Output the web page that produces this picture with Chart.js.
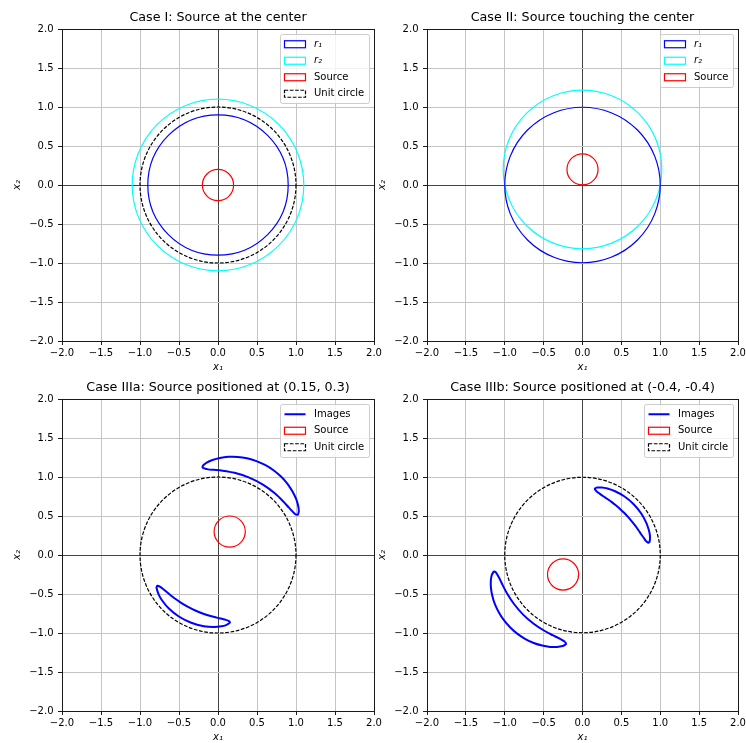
<!DOCTYPE html>
<html>
<head>
<meta charset="utf-8">
<script src="https://cdn.jsdelivr.net/npm/chart.js@4.4.0/dist/chart.umd.min.js"></script>
<style>
  body { margin: 0; width: 746px; height: 743px; overflow: hidden; background: #fff; position: relative; }
  canvas { position: absolute; }
</style>
</head>
<body>
<canvas id="case1" width="390" height="380" style="left:0;top:0"></canvas>
<canvas id="case2" width="390" height="380" style="left:365px;top:0"></canvas>
<canvas id="case3a" width="390" height="380" style="left:0;top:370px"></canvas>
<canvas id="case3b" width="390" height="380" style="left:365px;top:370px"></canvas>
<script>
// Axis ticks (same on both axes of every panel)
const axisTicks = [-2.0, -1.5, -1.0, -0.5, 0.0, 0.5, 1.0, 1.5, 2.0];

// Case I: circles (centre x, centre y, radius)
const case1Labels = ['r₁', 'r₂', 'Source', 'Unit circle'];
const case1CenterX = [0, 0, 0, 0];
const case1CenterY = [0, 0, 0, 0];
const case1Radius = [0.9, 1.1, 0.2, 1.0];

// Case II
const case2Labels = ['r₁', 'r₂', 'Source'];
const case2CenterX = [0, 0, 0];
const case2CenterY = [0, 0.2, 0.2];
const case2Radius = [1.0, 1.02, 0.2];

// Case IIIa
const case3aLabels = ['Source', 'Unit circle'];
const case3aCenterX = [0.15, 0];
const case3aCenterY = [0.3, 0];
const case3aRadius = [0.2, 1.0];

// Case IIIa image outlines
const case3aOuterX = [0.954, 0.891, 0.811, 0.716, 0.609, 0.493, 0.372, 0.251, 0.133, 0.024, -0.071, -0.145, -0.191, -0.199, -0.194, -0.127, -0.053, 0.059, 0.211, 0.393, 0.576, 0.728, 0.837, 0.910, 0.991, 1.021, 1.026, 1.036, 1.027, 1.000];
const case3aOuterY = [0.818, 0.913, 1.003, 1.084, 1.152, 1.204, 1.240, 1.258, 1.259, 1.245, 1.218, 1.184, 1.148, 1.126, 1.117, 1.098, 1.092, 1.081, 1.054, 0.996, 0.903, 0.792, 0.687, 0.607, 0.524, 0.516, 0.520, 0.564, 0.636, 0.723];
const case3aInnerX = [-0.604, -0.548, -0.487, -0.424, -0.359, -0.291, -0.222, -0.152, -0.083, -0.016, 0.048, 0.102, 0.141, 0.152, 0.151, 0.104, 0.045, -0.050, -0.182, -0.343, -0.502, -0.630, -0.714, -0.760, -0.789, -0.780, -0.776, -0.745, -0.704, -0.657];
const case3aInnerY = [-0.518, -0.561, -0.603, -0.643, -0.679, -0.711, -0.740, -0.765, -0.786, -0.803, -0.818, -0.832, -0.848, -0.861, -0.869, -0.898, -0.914, -0.922, -0.913, -0.869, -0.788, -0.685, -0.586, -0.507, -0.417, -0.395, -0.393, -0.405, -0.436, -0.475];

// Case IIIb
const case3bLabels = ['Source', 'Unit circle'];
const case3bCenterX = [-0.25, 0];
const case3bCenterY = [-0.25, 0];
const case3bRadius = [0.2, 1.0];

const case3bOuterX = [-0.223, -0.305, -0.386, -0.496, -0.628, -0.764, -0.881, -0.968, -1.027, -1.066, -1.114, -1.137, -1.145, -1.167, -1.179, -1.178, -1.161, -1.128, -1.077, -1.011, -0.929, -0.836, -0.734, -0.627, -0.519, -0.417, -0.327, -0.256, -0.216, -0.212];
const case3bOuterY = [-1.114, -1.066, -1.027, -0.968, -0.881, -0.764, -0.628, -0.496, -0.386, -0.305, -0.223, -0.212, -0.216, -0.256, -0.327, -0.417, -0.519, -0.627, -0.734, -0.836, -0.929, -1.011, -1.077, -1.128, -1.161, -1.178, -1.179, -1.167, -1.145, -1.137];
const case3bInnerX = [0.173, 0.249, 0.321, 0.419, 0.536, 0.655, 0.753, 0.818, 0.853, 0.867, 0.864, 0.850, 0.843, 0.817, 0.788, 0.754, 0.718, 0.678, 0.634, 0.588, 0.538, 0.486, 0.432, 0.377, 0.321, 0.267, 0.219, 0.179, 0.159, 0.158];
const case3bInnerY = [0.864, 0.867, 0.853, 0.818, 0.753, 0.655, 0.536, 0.419, 0.321, 0.249, 0.173, 0.158, 0.159, 0.179, 0.219, 0.267, 0.321, 0.377, 0.432, 0.486, 0.538, 0.588, 0.634, 0.678, 0.718, 0.754, 0.788, 0.817, 0.843, 0.850];

// Styles per circle label
const circleStyles = {
    'r₁': { color: '#0000ff', dashed: false },
    'r₂': { color: '#00ffff', dashed: false },
    'Source': { color: '#ff0000', dashed: false },
    'Unit circle': { color: '#000000', dashed: true }
};
const DASH = [3.7, 1.6];

Chart.defaults.font.family = '"DejaVu Sans", sans-serif';
Chart.defaults.font.size = 10;
Chart.defaults.color = '#000';

// Circle radius in pixels from the x scale
const pxRadius = (chart, r) => {
    const s = chart.scales.x;
    return Math.abs(s.getPixelForValue(r) - s.getPixelForValue(0));
};

// Dashed outline for point-circles
const dashPlugin = {
    id: 'dashPlugin',
    beforeDatasetDraw(chart, args) {
        const ds = chart.data.datasets[args.index];
        chart.ctx.save();
        if (ds.dashed) chart.ctx.setLineDash(DASH);
    },
    afterDatasetDraw(chart) {
        chart.ctx.restore();
    }
};

// Box around the axes
const framePlugin = {
    id: 'framePlugin',
    afterDatasetsDraw(chart) {
        const { ctx, chartArea: a } = chart;
        ctx.save();
        ctx.strokeStyle = '#1a1a1a';
        ctx.lineWidth = 1;
        ctx.strokeRect(Math.round(a.left) + 0.5, Math.round(a.top) + 0.5,
            Math.round(a.right - a.left), Math.round(a.bottom - a.top));
        ctx.restore();
    }
};

// matplotlib-like legend in the upper right corner
const legendPlugin = {
    id: 'mplLegend',
    afterDraw(chart) {
        const items = chart.data.datasets.filter(d => d.label);
        const ctx = chart.ctx;
        const a = chart.chartArea;
        const fontFor = label => (/^[a-z][₀-₉]$/.test(label) ? 'italic ' : '') + '10px "DejaVu Sans"';
        ctx.save();
        const widths = items.map(d => { ctx.font = fontFor(d.label); return ctx.measureText(d.label).width; });
        const rowH = 11.5, gap = 5, pad = 4, handleW = 21, textPad = 8.5;
        const w = pad + handleW + textPad + Math.max(...widths) + pad + 1.5;
        const h = pad * 2 + items.length * rowH + (items.length - 1) * gap;
        const x0 = Math.round(a.right - 5 - w) + 0.5;
        const y0 = Math.round(a.top + 5) + 0.5;
        ctx.beginPath();
        if (ctx.roundRect) ctx.roundRect(x0, y0, Math.round(w), Math.round(h), 2);
        else ctx.rect(x0, y0, Math.round(w), Math.round(h));
        ctx.fillStyle = 'rgba(255,255,255,0.8)';
        ctx.fill();
        ctx.strokeStyle = '#cccccc';
        ctx.lineWidth = 1;
        ctx.stroke();
        items.forEach((d, i) => {
            const cy = y0 + pad + rowH / 2 + i * (rowH + gap);
            const hx = x0 + pad;
            ctx.setLineDash(d.dashed ? DASH : []);
            if (d.showLine) {
                ctx.strokeStyle = d.borderColor;
                ctx.lineWidth = d.borderWidth;
                ctx.beginPath();
                ctx.moveTo(hx, cy);
                ctx.lineTo(hx + handleW, cy);
                ctx.stroke();
            } else {
                ctx.strokeStyle = d.pointBorderColor;
                ctx.lineWidth = 1.2;
                ctx.strokeRect(hx, cy - 3.5, handleW, 7);
            }
            ctx.setLineDash([]);
            ctx.font = fontFor(d.label);
            ctx.fillStyle = '#000';
            ctx.textBaseline = 'middle';
            ctx.textAlign = 'left';
            ctx.fillText(d.label, hx + handleW + textPad, cy);
        });
        ctx.restore();
    }
};

const fmt = v => v.toFixed(1).replace('-', '\u2212');

const axisOptions = (titleText, isX) => ({
    type: 'linear',
    min: -2,
    max: 2,
    afterBuildTicks: scale => { scale.ticks = axisTicks.map(v => ({ value: v })); },
    afterFit: scale => { if (isX) scale.height = 35; else scale.width = 58; },
    ticks: { callback: v => fmt(v), padding: isX ? 2 : 4.5, maxRotation: 0, autoSkip: false },
    grid: {
        color: ctx => (ctx.tick && ctx.tick.value === 0 ? '#444444' : '#c4c4c4'),
        lineWidth: 1,
        tickColor: '#1a1a1a',
        tickLength: 4,
        tickWidth: 1
    },
    border: { display: false },
    title: {
        display: true,
        text: titleText,
        font: { size: 10, style: 'italic' },
        padding: isX ? { top: 0, bottom: 2.5 } : { top: 7.5, bottom: 0 }
    }
});

const makeChart = (id, title, labels, cx, cy, radius, images, rightPad) => {
    const datasets = [];
    images.forEach((img, k) => {
        const pts = img.x.map((x, i) => ({ x, y: img.y[i] }));
        pts.push({ x: img.x[0], y: img.y[0] });
        datasets.push({
            label: k === 0 ? 'Images' : '',
            data: pts,
            showLine: true,
            borderColor: '#0000ff',
            borderWidth: 2,
            tension: 0.3,
            pointRadius: 0,
            fill: false
        });
    });
    labels.forEach((label, i) => {
        const st = circleStyles[label];
        datasets.push({
            label,
            data: [{ x: cx[i], y: cy[i] }],
            pointRadius: ctx => pxRadius(ctx.chart, radius[i]),
            pointBackgroundColor: 'rgba(0,0,0,0)',
            pointBorderColor: st.color,
            pointBorderWidth: 1.2,
            dashed: st.dashed
        });
    });
    return new Chart(document.getElementById(id), {
        type: 'scatter',
        data: { datasets },
        options: {
            responsive: false,
            animation: false,
            events: [],
            layout: { padding: { left: 4, top: 10.5, right: rightPad, bottom: 4 } },
            plugins: {
                legend: { display: false },
                tooltip: { enabled: false },
                title: {
                    display: true,
                    text: title,
                    fullSize: false,
                    color: '#000',
                    font: { size: 12.7, weight: 'normal', lineHeight: 1.2 },
                    padding: { top: 0, bottom: 3.3 }
                }
            },
            scales: {
                x: axisOptions('x₁', true),
                y: axisOptions('x₂', false)
            }
        },
        plugins: [dashPlugin, framePlugin, legendPlugin]
    });
};

makeChart('case1', 'Case I: Source at the center',
    case1Labels, case1CenterX, case1CenterY, case1Radius, [], 16);
makeChart('case2', 'Case II: Source touching the center',
    case2Labels, case2CenterX, case2CenterY, case2Radius, [], 17);
makeChart('case3a', 'Case IIIa: Source positioned at (0.15, 0.3)',
    case3aLabels, case3aCenterX, case3aCenterY, case3aRadius,
    [{ x: case3aOuterX, y: case3aOuterY }, { x: case3aInnerX, y: case3aInnerY }], 16);
makeChart('case3b', 'Case IIIb: Source positioned at (-0.4, -0.4)',
    case3bLabels, case3bCenterX, case3bCenterY, case3bRadius,
    [{ x: case3bOuterX, y: case3bOuterY }, { x: case3bInnerX, y: case3bInnerY }], 17);
</script>
</body>
</html>
